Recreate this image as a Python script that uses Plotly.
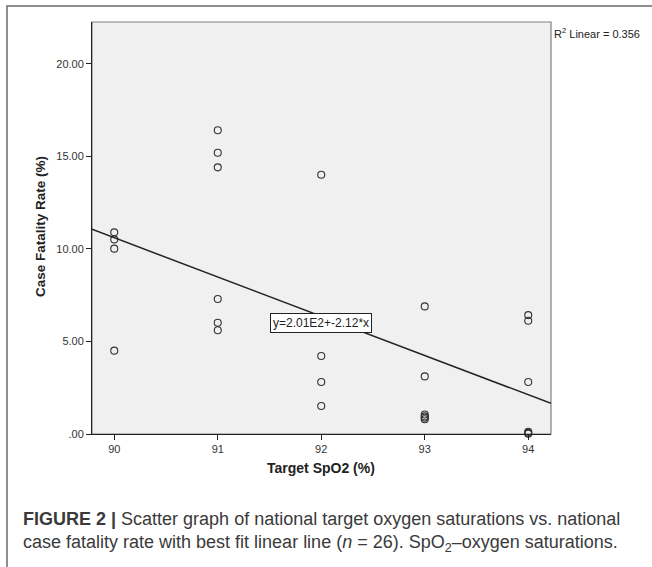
import plotly.graph_objects as go

# ---- data ----
target_spo2 = [90, 90, 90, 90,
               91, 91, 91, 91, 91, 91,
               92, 92, 92, 92,
               93, 93, 93, 93, 93, 93,
               94, 94, 94, 94, 94, 94]
case_fatality = [10.89, 10.51, 10.01, 4.50,
                 16.40, 15.19, 14.40, 7.29, 6.01, 5.60,
                 14.00, 4.21, 2.81, 1.51,
                 6.89, 3.11, 1.05, 0.95, 0.88, 0.80,
                 6.42, 6.12, 2.81, 0.12, 0.06, 0.02]
fit_intercept = 201.4
fit_slope = -2.12
equation_label = "y=2.01E2+-2.12*x"
equation_at = (92, 6.0)
r2_label = "R<sup>2</sup> Linear = 0.356"
x_ticks = [90, 91, 92, 93, 94]
x_tick_labels = ["90", "91", "92", "93", "94"]
y_ticks = [0, 5, 10, 15, 20]
y_tick_labels = [".00", "5.00", "10.00", "15.00", "20.00"]
x_title = "Target SpO2 (%)"
y_title = "Case Fatality Rate (%)"
caption_line1 = "<b>FIGURE 2 |</b> Scatter graph of national target oxygen saturations vs. national"
caption_line2 = "case fatality rate with best fit linear line (<i>n</i> = 26). SpO<sub>2</sub>\u2013oxygen saturations."

# ---- layout geometry (pixels) ----
W, H = 652, 567
L, R, T, B = 92, 101, 22, 133
pw, ph = W - L - R, H - T - B
x_range = [89.785, 94.22]
y_range = [0, 22.25]


def px(xp):
    return (xp - L) / pw


def py(yp):
    return (H - B - yp) / ph


FONT = "Liberation Sans, Arial, sans-serif"

fig = go.Figure()
fig.add_trace(go.Scatter(
    x=target_spo2, y=case_fatality, mode="markers",
    marker=dict(symbol="circle-open", size=7, color="#333333", line=dict(width=1.1)),
    showlegend=False, cliponaxis=False))

fit_x = x_range
fit_y = [fit_intercept + fit_slope * v for v in fit_x]
fig.add_trace(go.Scatter(x=fit_x, y=fit_y, mode="lines",
                         line=dict(color="#222222", width=1.5), showlegend=False))

fig.update_layout(
    width=W, height=H, autosize=False,
    margin=dict(l=L, r=R, t=T, b=B, pad=0),
    paper_bgcolor="white", plot_bgcolor="#F0F0F0",
    font=dict(family=FONT, size=11, color="#222"),
    xaxis=dict(range=x_range, tickvals=x_ticks, ticktext=x_tick_labels,
               showgrid=False, zeroline=False, showline=True, linecolor="#222",
               linewidth=1, ticks="outside", ticklen=5, tickcolor="#222",
               tickfont=dict(family=FONT, size=11, color="#333")),
    yaxis=dict(range=y_range, tickvals=y_ticks, ticktext=y_tick_labels,
               showgrid=False, zeroline=False, showline=True, linecolor="#222",
               linewidth=1, ticks="outside", ticklen=5, tickcolor="#222",
               tickfont=dict(family=FONT, size=11, color="#333")),
    shapes=[
        dict(type="rect", xref="paper", yref="paper", x0=0, x1=1, y0=0, y1=1,
             line=dict(color="#808080", width=1.2), layer="below"),
        dict(type="path", xref="paper", yref="paper",
             path=f"M {px(7)},{py(H + 5)} L {px(7)},{py(6)} L {px(W + 5)},{py(6)}",
             line=dict(color="#6a6a6a", width=1.5)),
    ],
    annotations=[
        dict(x=equation_at[0], y=equation_at[1], xref="x", yref="y", text=equation_label,
             xanchor="center", yanchor="middle",
             showarrow=False, bgcolor="white", bordercolor="#222", borderwidth=1,
             borderpad=2, font=dict(family=FONT, size=12, color="#222")),
        dict(x=px(552), y=py(24), xref="paper", yref="paper", text=r2_label,
             xanchor="left", yanchor="top", showarrow=False,
             font=dict(family=FONT, size=11, color="#222")),
        dict(x=px(321), y=py(468), xref="paper", yref="paper", text=f"<b>{x_title}</b>",
             xanchor="center", yanchor="middle",
             showarrow=False, font=dict(family=FONT, size=14, color="#222")),
        dict(x=px(40), y=py(227), xref="paper", yref="paper", text=f"<b>{y_title}</b>",
             xanchor="center", yanchor="middle",
             textangle=-90, showarrow=False, font=dict(family=FONT, size=13.5, color="#222")),
        dict(x=px(21), y=py(519), xref="paper", yref="paper", text=caption_line1,
             xanchor="left", yanchor="middle", showarrow=False,
             font=dict(family=FONT, size=18, color="#3a3a3a")),
        dict(x=px(21), y=py(543), xref="paper", yref="paper", text=caption_line2,
             xanchor="left", yanchor="middle", showarrow=False,
             font=dict(family=FONT, size=18, color="#3a3a3a")),
    ],
)

fig.write_html("out.html", config={"displayModeBar": False},
               post_script="document.body.style.margin='0';document.body.style.overflow='hidden';")
